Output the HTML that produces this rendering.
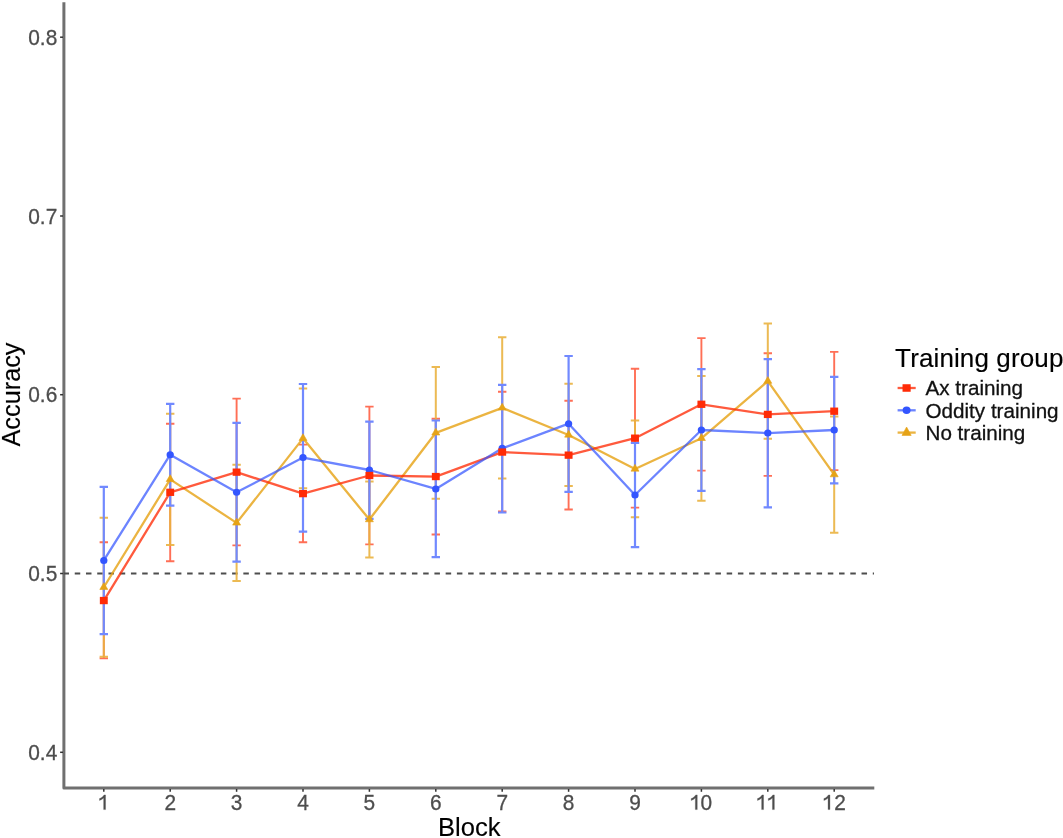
<!DOCTYPE html>
<html><head><meta charset="utf-8"><style>
html,body{margin:0;padding:0;background:#fff;}
body{width:1063px;height:838px;overflow:hidden;}
svg{display:block;will-change:transform;}
text{font-family:"Liberation Sans",sans-serif;}
.tk{font-size:22px;fill:#4D4D4D;stroke:#4D4D4D;stroke-width:0.3px;}
.ttl{font-size:26px;fill:#000;stroke:#000;stroke-width:0.15px;}
.lg{font-size:20.65px;fill:#111;stroke:#111;stroke-width:0.3px;}
</style></head><body>
<svg width="1063" height="838" viewBox="0 0 1063 838">
<path d="M63.9 2.2V788H874.3" fill="none" stroke="#707070" stroke-width="3" stroke-linejoin="round"/>
<line x1="63.5" y1="573.5" x2="874" y2="573.5" stroke="#4d4d4d" stroke-width="2" stroke-dasharray="5.5 5.74"/>
<line x1="60.1" y1="752.3" x2="63" y2="752.3" stroke="#333" stroke-width="1.5"/>
<text transform="translate(57.3 759.8) scale(0.95 1)" class="tk" text-anchor="end">0.4</text>
<line x1="60.1" y1="573.5" x2="63" y2="573.5" stroke="#333" stroke-width="1.5"/>
<text transform="translate(57.3 581) scale(0.95 1)" class="tk" text-anchor="end">0.5</text>
<line x1="60.1" y1="394.7" x2="63" y2="394.7" stroke="#333" stroke-width="1.5"/>
<text transform="translate(57.3 402.2) scale(0.95 1)" class="tk" text-anchor="end">0.6</text>
<line x1="60.1" y1="216" x2="63" y2="216" stroke="#333" stroke-width="1.5"/>
<text transform="translate(57.3 223.5) scale(0.95 1)" class="tk" text-anchor="end">0.7</text>
<line x1="60.1" y1="37.2" x2="63" y2="37.2" stroke="#333" stroke-width="1.5"/>
<text transform="translate(57.3 44.7) scale(0.95 1)" class="tk" text-anchor="end">0.8</text>
<line x1="103.8" y1="789" x2="103.8" y2="791.8" stroke="#333" stroke-width="1.5"/>
<path transform="translate(104.6 809.6)" d="M0.95,0V-14.7H-0.55C-1.35,-13.3 -3.0,-11.8 -5.1,-11.0V-9.1C-3.6,-9.6 -2.2,-10.5 -0.95,-11.5V0Z" fill="#4D4D4D" stroke="#4D4D4D" stroke-width="0.3"/>
<line x1="170.2" y1="789" x2="170.2" y2="791.8" stroke="#333" stroke-width="1.5"/>
<text transform="translate(170.2 809.6) scale(0.95 1)" class="tk" text-anchor="middle">2</text>
<line x1="236.6" y1="789" x2="236.6" y2="791.8" stroke="#333" stroke-width="1.5"/>
<text transform="translate(236.6 809.6) scale(0.95 1)" class="tk" text-anchor="middle">3</text>
<line x1="303" y1="789" x2="303" y2="791.8" stroke="#333" stroke-width="1.5"/>
<text transform="translate(303 809.6) scale(0.95 1)" class="tk" text-anchor="middle">4</text>
<line x1="369.4" y1="789" x2="369.4" y2="791.8" stroke="#333" stroke-width="1.5"/>
<text transform="translate(369.4 809.6) scale(0.95 1)" class="tk" text-anchor="middle">5</text>
<line x1="435.8" y1="789" x2="435.8" y2="791.8" stroke="#333" stroke-width="1.5"/>
<text transform="translate(435.8 809.6) scale(0.95 1)" class="tk" text-anchor="middle">6</text>
<line x1="502.2" y1="789" x2="502.2" y2="791.8" stroke="#333" stroke-width="1.5"/>
<text transform="translate(502.2 809.6) scale(0.95 1)" class="tk" text-anchor="middle">7</text>
<line x1="568.6" y1="789" x2="568.6" y2="791.8" stroke="#333" stroke-width="1.5"/>
<text transform="translate(568.6 809.6) scale(0.95 1)" class="tk" text-anchor="middle">8</text>
<line x1="635" y1="789" x2="635" y2="791.8" stroke="#333" stroke-width="1.5"/>
<text transform="translate(635 809.6) scale(0.95 1)" class="tk" text-anchor="middle">9</text>
<line x1="701.4" y1="789" x2="701.4" y2="791.8" stroke="#333" stroke-width="1.5"/>
<path transform="translate(696.3 809.6)" d="M0.95,0V-14.7H-0.55C-1.35,-13.3 -3.0,-11.8 -5.1,-11.0V-9.1C-3.6,-9.6 -2.2,-10.5 -0.95,-11.5V0Z" fill="#4D4D4D" stroke="#4D4D4D" stroke-width="0.3"/>
<text transform="translate(706.4 809.6) scale(0.95 1)" class="tk" text-anchor="middle">0</text>
<line x1="767.8" y1="789" x2="767.8" y2="791.8" stroke="#333" stroke-width="1.5"/>
<path transform="translate(762.6 809.6)" d="M0.95,0V-14.7H-0.55C-1.35,-13.3 -3.0,-11.8 -5.1,-11.0V-9.1C-3.6,-9.6 -2.2,-10.5 -0.95,-11.5V0Z" fill="#4D4D4D" stroke="#4D4D4D" stroke-width="0.3"/>
<path transform="translate(773.4 809.6)" d="M0.95,0V-14.7H-0.55C-1.35,-13.3 -3.0,-11.8 -5.1,-11.0V-9.1C-3.6,-9.6 -2.2,-10.5 -0.95,-11.5V0Z" fill="#4D4D4D" stroke="#4D4D4D" stroke-width="0.3"/>
<line x1="834.2" y1="789" x2="834.2" y2="791.8" stroke="#333" stroke-width="1.5"/>
<path transform="translate(829 809.6)" d="M0.95,0V-14.7H-0.55C-1.35,-13.3 -3.0,-11.8 -5.1,-11.0V-9.1C-3.6,-9.6 -2.2,-10.5 -0.95,-11.5V0Z" fill="#4D4D4D" stroke="#4D4D4D" stroke-width="0.3"/>
<text transform="translate(840 809.6) scale(0.95 1)" class="tk" text-anchor="middle">2</text>
<text x="469.3" y="835.9" class="ttl" style="font-size:25.6px" text-anchor="middle">Block</text>
<text transform="translate(19.9 394.5) rotate(-90)" class="ttl" style="font-size:25.3px" text-anchor="middle">Accuracy</text>
<g stroke="#FF2B06" stroke-width="1.9" opacity="0.68" fill="none"><path d="M99.6 542.2H108M103.8 542.2V658.4M99.6 658.4H108M166 423.7H174.4M170.2 423.7V561.3M166 561.3H174.4M232.4 398.6H240.8M236.6 398.6V545.4M232.4 545.4H240.8M298.8 444.6H307.2M303 444.6V542.3M298.8 542.3H307.2M365.2 406.6H373.6M369.4 406.6V544.4M365.2 544.4H373.6M431.6 418.7H440M435.8 418.7V534.5M431.6 534.5H440M498 391.8H506.4M502.2 391.8V511.5M498 511.5H506.4M564.4 400.7H572.8M568.6 400.7V509.5M564.4 509.5H572.8M630.8 368.7H639.2M635 368.7V507.6M630.8 507.6H639.2M697.2 338.1H705.6M701.4 338.1V470.6M697.2 470.6H705.6M763.6 353.2H772M767.8 353.2V475.9M763.6 475.9H772M830 351.9H838.4M834.2 351.9V470.1M830 470.1H838.4"/></g>
<g stroke="#EAB340" stroke-width="2.0" opacity="0.9" fill="none"><path d="M99.6 517.8H108M103.8 517.8V656.7M99.6 656.7H108M166 413.8H174.4M170.2 413.8V544.9M166 544.9H174.4M232.4 464.8H240.8M236.6 464.8V581M232.4 581H240.8M298.8 388.4H307.2M303 388.4V488.3M298.8 488.3H307.2M365.2 481.5H373.6M369.4 481.5V557.6M365.2 557.6H373.6M431.6 366.9H440M435.8 366.9V498.7M431.6 498.7H440M498 337.2H506.4M502.2 337.2V478.5M498 478.5H506.4M564.4 383.8H572.8M568.6 383.8V486.1M564.4 486.1H572.8M630.8 420.6H639.2M635 420.6V517.3M630.8 517.3H639.2M697.2 375.9H705.6M701.4 375.9V500.7M697.2 500.7H705.6M763.6 323.6H772M767.8 323.6V438.7M763.6 438.7H772M830 416.4H838.4M834.2 416.4V532.8M830 532.8H838.4"/></g>
<g stroke="#7189FF" stroke-width="2.2" opacity="1" fill="none"><path d="M99.6 486.8H108M103.8 486.8V634.2M99.6 634.2H108M166 403.9H174.4M170.2 403.9V505.6M166 505.6H174.4M232.4 422.8H240.8M236.6 422.8V561.6M232.4 561.6H240.8M298.8 384H307.2M303 384V531.6M298.8 531.6H307.2M365.2 421.6H373.6M369.4 421.6V518.8M365.2 518.8H373.6M431.6 420.5H440M435.8 420.5V557.1M431.6 557.1H440M498 384.9H506.4M502.2 384.9V512.5M498 512.5H506.4M564.4 356H572.8M568.6 356V491.8M564.4 491.8H572.8M630.8 442.8H639.2M635 442.8V547.1M630.8 547.1H639.2M697.2 369.1H705.6M701.4 369.1V490.8M697.2 490.8H705.6M763.6 359.2H772M767.8 359.2V507.4M763.6 507.4H772M830 376.8H838.4M834.2 376.8V483.3M830 483.3H838.4"/></g>
<polyline points="103.8,587.25 170.2,479.35 236.6,522.9 303,438.35 369.4,519.55 435.8,432.8 502.2,407.85 568.6,434.95 635,468.95 701.4,438.3 767.8,381.15 834.2,474.6" fill="none" stroke="#E6A317" stroke-width="2.3" stroke-linejoin="round" stroke-opacity="0.82"/>
<polyline points="103.8,600.55 170.2,492.3 236.6,472.15 303,493.62 369.4,475.5 435.8,476.55 502.2,452.07 568.6,455.15 635,438.17 701.4,404.27 767.8,414.42 834.2,411.2" fill="none" stroke="#FF2B06" stroke-width="2.3" stroke-linejoin="round" stroke-opacity="0.78"/>
<polyline points="103.8,560.4 170.2,454.68 236.6,492.35 303,457.55 369.4,470 435.8,488.9 502.2,448.35 568.6,423.7 635,495.03 701.4,429.98 767.8,433.1 834.2,430.02" fill="none" stroke="#3355FF" stroke-width="2.3" stroke-linejoin="round" stroke-opacity="0.72"/>
<ellipse cx="103.8" cy="560.4" rx="3.65" ry="3.5" fill="#3355FF"/>
<ellipse cx="170.2" cy="454.68" rx="3.65" ry="3.5" fill="#3355FF"/>
<ellipse cx="236.6" cy="492.35" rx="3.65" ry="3.5" fill="#3355FF"/>
<ellipse cx="303" cy="457.55" rx="3.65" ry="3.5" fill="#3355FF"/>
<ellipse cx="369.4" cy="470" rx="3.65" ry="3.5" fill="#3355FF"/>
<ellipse cx="435.8" cy="488.9" rx="3.65" ry="3.5" fill="#3355FF"/>
<ellipse cx="502.2" cy="448.35" rx="3.65" ry="3.5" fill="#3355FF"/>
<ellipse cx="568.6" cy="423.7" rx="3.65" ry="3.5" fill="#3355FF"/>
<ellipse cx="635" cy="495.03" rx="3.65" ry="3.5" fill="#3355FF"/>
<ellipse cx="701.4" cy="429.98" rx="3.65" ry="3.5" fill="#3355FF"/>
<ellipse cx="767.8" cy="433.1" rx="3.65" ry="3.5" fill="#3355FF"/>
<ellipse cx="834.2" cy="430.02" rx="3.65" ry="3.5" fill="#3355FF"/>
<rect x="99.85" y="596.9" width="7.9" height="7.3" fill="#FF2B06"/>
<rect x="166.25" y="488.65" width="7.9" height="7.3" fill="#FF2B06"/>
<rect x="232.65" y="468.5" width="7.9" height="7.3" fill="#FF2B06"/>
<rect x="299.05" y="489.97" width="7.9" height="7.3" fill="#FF2B06"/>
<rect x="365.45" y="471.85" width="7.9" height="7.3" fill="#FF2B06"/>
<rect x="431.85" y="472.9" width="7.9" height="7.3" fill="#FF2B06"/>
<rect x="498.25" y="448.42" width="7.9" height="7.3" fill="#FF2B06"/>
<rect x="564.65" y="451.5" width="7.9" height="7.3" fill="#FF2B06"/>
<rect x="631.05" y="434.52" width="7.9" height="7.3" fill="#FF2B06"/>
<rect x="697.45" y="400.62" width="7.9" height="7.3" fill="#FF2B06"/>
<rect x="763.85" y="410.77" width="7.9" height="7.3" fill="#FF2B06"/>
<rect x="830.25" y="407.55" width="7.9" height="7.3" fill="#FF2B06"/>
<path d="M103.8 582.65L107.8 589.45L99.8 589.45Z" fill="#E6A317" stroke="#E6A317" stroke-width="0.6" stroke-linejoin="round"/>
<path d="M170.2 474.75L174.2 481.55L166.2 481.55Z" fill="#E6A317" stroke="#E6A317" stroke-width="0.6" stroke-linejoin="round"/>
<path d="M236.6 518.3L240.6 525.1L232.6 525.1Z" fill="#E6A317" stroke="#E6A317" stroke-width="0.6" stroke-linejoin="round"/>
<path d="M303 433.75L307 440.55L299 440.55Z" fill="#E6A317" stroke="#E6A317" stroke-width="0.6" stroke-linejoin="round"/>
<path d="M369.4 514.95L373.4 521.75L365.4 521.75Z" fill="#E6A317" stroke="#E6A317" stroke-width="0.6" stroke-linejoin="round"/>
<path d="M435.8 428.2L439.8 435L431.8 435Z" fill="#E6A317" stroke="#E6A317" stroke-width="0.6" stroke-linejoin="round"/>
<path d="M502.2 403.25L506.2 410.05L498.2 410.05Z" fill="#E6A317" stroke="#E6A317" stroke-width="0.6" stroke-linejoin="round"/>
<path d="M568.6 430.35L572.6 437.15L564.6 437.15Z" fill="#E6A317" stroke="#E6A317" stroke-width="0.6" stroke-linejoin="round"/>
<path d="M635 464.35L639 471.15L631 471.15Z" fill="#E6A317" stroke="#E6A317" stroke-width="0.6" stroke-linejoin="round"/>
<path d="M701.4 433.7L705.4 440.5L697.4 440.5Z" fill="#E6A317" stroke="#E6A317" stroke-width="0.6" stroke-linejoin="round"/>
<path d="M767.8 376.55L771.8 383.35L763.8 383.35Z" fill="#E6A317" stroke="#E6A317" stroke-width="0.6" stroke-linejoin="round"/>
<path d="M834.2 470L838.2 476.8L830.2 476.8Z" fill="#E6A317" stroke="#E6A317" stroke-width="0.6" stroke-linejoin="round"/>
<text x="895.1" y="367.3" class="ttl" style="letter-spacing:0.12px">Training group</text>
<line x1="897.6" y1="388" x2="915.7" y2="388" stroke="#FF2B06" stroke-width="2.3" stroke-opacity="0.78"/>
<rect x="902.53" y="384.24" width="8.14" height="7.52" fill="#FF2B06"/>
<text x="925.5" y="395.4" class="lg">Ax training</text>
<line x1="897.6" y1="410.3" x2="915.7" y2="410.3" stroke="#3355FF" stroke-width="2.3" stroke-opacity="0.72"/>
<ellipse cx="906.6" cy="410.3" rx="3.94" ry="3.78" fill="#3355FF"/>
<text x="925.5" y="417.7" class="lg">Oddity training</text>
<line x1="897.6" y1="432.6" x2="915.7" y2="432.6" stroke="#E6A317" stroke-width="2.3" stroke-opacity="0.82"/>
<path d="M906.6 427L911.2 435.4L902 435.4Z" fill="#E6A317" stroke="#E6A317" stroke-width="0.6" stroke-linejoin="round"/>
<text x="925.5" y="440" class="lg">No training</text>
</svg>
</body></html>
